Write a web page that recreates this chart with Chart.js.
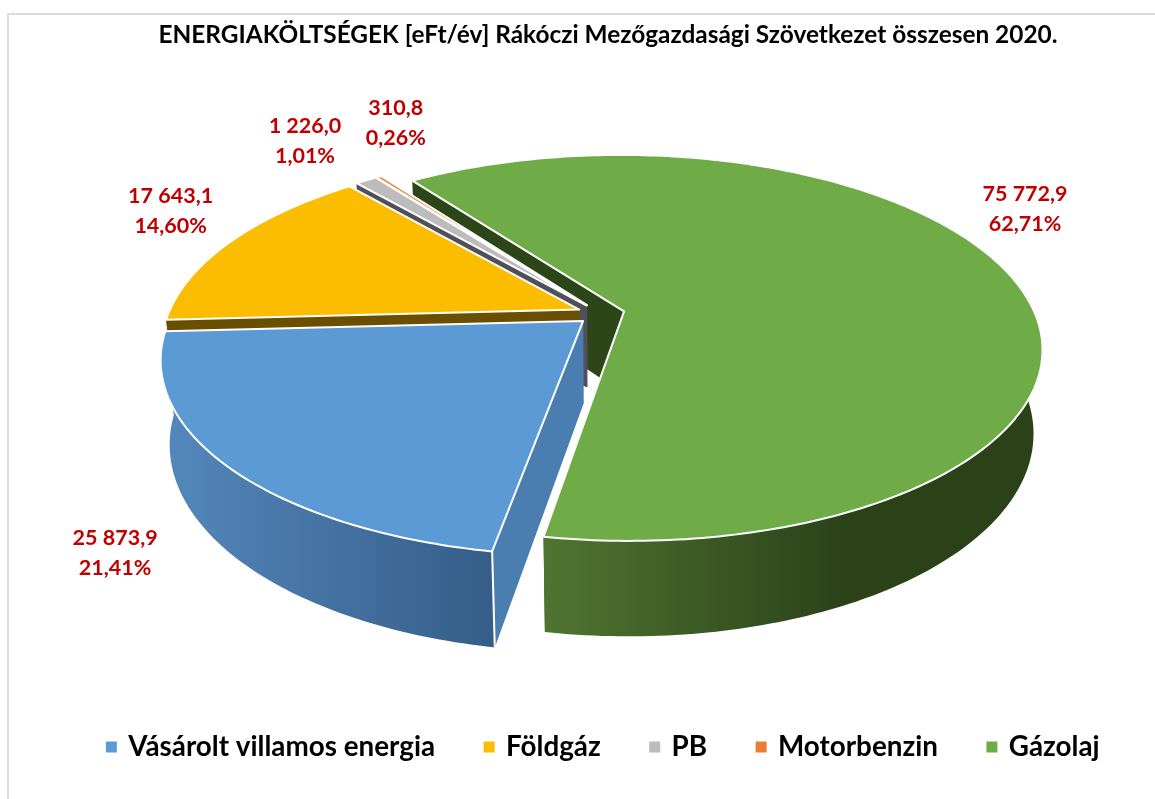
<!DOCTYPE html>
<html>
<head>
<meta charset="utf-8">
<title>Energiaköltségek</title>
<script src="https://cdn.jsdelivr.net/npm/chart.js@4"></script>
<style>
  html, body { margin: 0; background: #fff; overflow: hidden; }
  #frame { position: absolute; left: 7px; top: 13px; width: 1200px; height: 900px; border: 2px solid #dcdcdc; }
  #chart { position: absolute; left: 0; top: 0; }
</style>
</head>
<body>
<div id="frame"></div>
<canvas id="chart" width="1155" height="799"></canvas>
<script>
const titleText = 'ENERGIAKÖLTSÉGEK [eFt/év] Rákóczi Mezőgazdasági Szövetkezet összesen 2020.';
const categories = ['Vásárolt villamos energia', 'Földgáz', 'PB', 'Motorbenzin', 'Gázolaj'];
const values = [25873.9, 17643.1, 1226.0, 310.8, 75772.9];
const colors = ['#5b9ad5', '#fcbd00', '#bcbcbc', '#ed7d31', '#6fac48'];
const faceColors = ['#4a7db0', '#6b4f00', '#50505a', '#5a5560', '#2d4619'];
const wallColors = [['#5488bc', '#355d88'], ['#6b4f00', '#6b4f00'], ['#777', '#555'], ['#8a4a1c', '#8a4a1c'], ['#4f7531', '#2b4219']];
// far slices first, the near ones paint over them
const drawOrder = [4, 3, 2, 1, 0];
// label offset from the slice's rim midpoint
const labelShift = [[-111, 88], [-60, -31], [-61, -39], [17, -54], [19, -62]];

// perspective of the tilted disc
const view = { f: 411, g: 187, k: 0.19, h: 84, m: 0.02 };

function project(cx, cy, u, v, z) {
    const w = 1 - view.k * v + view.m * z;
    return { x: cx + view.f * u / w, y: cy + (view.g * v + view.h * z) / w };
}

function tracePath(ctx, pts) {
    ctx.beginPath();
    pts.forEach((p, i) => i ? ctx.lineTo(p.x, p.y) : ctx.moveTo(p.x, p.y));
    ctx.closePath();
}

function formatNumber(n) {
    const parts = n.toFixed(1).split('.');
    return parts[0].replace(/\B(?=(\d{3})+$)/g, ' ') + ',' + parts[1];
}

// geometry of one arc, read from the element Chart.js laid out
function sliceGeometry(el) {
    const mid = (el.startAngle + el.endAngle) / 2;
    const off = el.options.offset / el.outerRadius;
    const ou = Math.cos(mid) * off, ov = Math.sin(mid) * off;
    const at = (a, z) => project(el.x, el.y, ou + Math.cos(a), ov + Math.sin(a), z);
    const apex = z => project(el.x, el.y, ou, ov, z);
    const steps = Math.max(2, Math.ceil((el.endAngle - el.startAngle) * 60));
    const angles = [];
    for (let i = 0; i <= steps; i++) angles.push(el.startAngle + (el.endAngle - el.startAngle) * i / steps);
    return { mid, at, apex, angles };
}

const pie3d = {
    id: 'pie3d',
    afterLayout(chart) {
        chart.titleBlock.left += 7;
        chart.titleBlock.right += 7;
        chart.legend.left += 3;
        chart.legend.right += 3;
        chart.legend.top += 110;
        chart.legend.bottom += 110;
    },
    beforeDatasetDraw(chart, args) {
        const ctx = chart.ctx;
        const arcs = chart.getDatasetMeta(args.index).data;
        drawOrder.forEach(i => {
            const el = arcs[i];
            const s = sliceGeometry(el);
            // cut faces
            ctx.fillStyle = faceColors[i];
            [el.startAngle, el.endAngle].forEach(a => {
                tracePath(ctx, [s.apex(0), s.at(a, 0), s.at(a, 1), s.apex(1)]);
                ctx.fill();
            });
            // outer wall, only the part facing the viewer
            const near = s.angles.filter(a => Math.sin(a) >= 0);
            if (near.length > 1) {
                const rim = near.map(a => s.at(a, 0));
                const foot = near.map(a => s.at(a, 1)).reverse();
                const xs = rim.map(p => p.x);
                const minX = Math.min(...xs), maxX = Math.max(...xs);
                const grad = ctx.createLinearGradient(minX, 0, i === 4 ? minX + 300 : maxX, 0);
                grad.addColorStop(0, wallColors[i][0]);
                grad.addColorStop(1, wallColors[i][1]);
                ctx.fillStyle = grad;
                tracePath(ctx, rim.concat(foot));
                ctx.fill();
            }
            // near corner of the blue slice has a light edge
            if (i === 0) {
                const a = s.at(el.startAngle, 0), b = s.at(el.startAngle, 1);
                ctx.strokeStyle = '#fff';
                ctx.lineWidth = 2;
                ctx.beginPath();
                ctx.moveTo(a.x, a.y);
                ctx.lineTo(b.x, b.y);
                ctx.stroke();
            }
            // top face
            tracePath(ctx, [s.apex(0)].concat(s.angles.map(a => s.at(a, 0))));
            ctx.fillStyle = colors[i];
            ctx.fill();
            ctx.strokeStyle = '#fff';
            ctx.lineWidth = 2;
            ctx.lineJoin = 'round';
            ctx.stroke();
        });
        return false;
    },
    afterDraw(chart) {
        const ctx = chart.ctx;
        const total = values.reduce((a, b) => a + b, 0);
        const arcs = chart.getDatasetMeta(0).data;
        ctx.save();
        ctx.font = 'bold 21.5px Lato';
        ctx.fillStyle = '#c00000';
        ctx.textAlign = 'center';
        ctx.textBaseline = 'middle';
        arcs.forEach((el, i) => {
            const s = sliceGeometry(el);
            const p = s.at(s.mid, 0);
            const x = p.x + labelShift[i][0], y = p.y + labelShift[i][1];
            ctx.fillText(formatNumber(values[i]), x, y - 15);
            ctx.fillText((values[i] / total * 100).toFixed(2).replace('.', ',') + '%', x, y + 15);
        });
        ctx.restore();
    }
};

new Chart(document.getElementById('chart'), {
    type: 'pie',
    data: {
        labels: categories,
        datasets: [{ data: values, backgroundColor: colors, borderWidth: 0, offset: 14.5 }]
    },
    options: {
        responsive: false,
        animation: false,
        rotation: 189.8,
        layout: { padding: { left: 47, bottom: 138 } },
        plugins: {
            tooltip: { enabled: false },
            title: {
                display: true,
                text: titleText,
                color: '#000',
                font: { family: 'Lato', size: 24.4, weight: 'bold' },
                padding: { top: 21, bottom: 5 }
            },
            legend: {
                position: 'bottom',
                labels: {
                    color: '#000',
                    font: { family: 'Lato', size: 27.8, weight: 'bold' },
                    usePointStyle: true,
                    pointStyle: 'rect',
                    boxWidth: 6,
                    boxHeight: 11,
                    padding: 51
                }
            }
        }
    },
    plugins: [pie3d]
});
</script>
</body>
</html>
